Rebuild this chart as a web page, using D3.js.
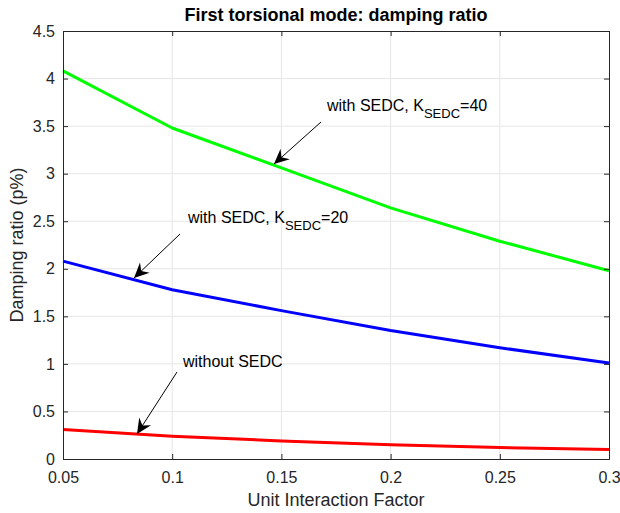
<!DOCTYPE html>
<html>
<head>
<meta charset="utf-8">
<script src="https://cdn.jsdelivr.net/npm/d3@7"></script>
<style>
  body { margin: 0; background: #fff; }
  svg text { font-family: "Liberation Sans", Arial, Helvetica, sans-serif; }
</style>
</head>
<body>
<svg id="chart" width="620" height="513"></svg>
<script>
// data
const uif = [0.05, 0.1, 0.15, 0.2, 0.25, 0.3];
const k40 = [4.08, 3.48, 3.06, 2.64, 2.29, 1.98];
const k20 = [2.08, 1.78, 1.56, 1.35, 1.17, 1.01];
const noSedc = [0.31, 0.24, 0.19, 0.15, 0.12, 0.10];
const xTicks = [0.05, 0.1, 0.15, 0.2, 0.25, 0.3];
const yTicks = [0, 0.5, 1, 1.5, 2, 2.5, 3, 3.5, 4, 4.5];

const series = [
  {name: "K40", values: k40, color: "#00ff00"},
  {name: "K20", values: k20, color: "#0000ff"},
  {name: "none", values: noSedc, color: "#ff0000"}
];

const svg = d3.select("#chart");
const margin = {top: 31, right: 11, bottom: 54, left: 63};
const W = +svg.attr("width"), H = +svg.attr("height");
const innerWidth = W - margin.left - margin.right;
const innerHeight = H - margin.top - margin.bottom;

const xScale = d3.scaleLinear().domain([0.05, 0.3]).range([0, innerWidth]);
const yScale = d3.scaleLinear().domain([0, 4.5]).range([innerHeight, 0]);

const g = svg.append("g").attr("transform", `translate(${margin.left},${margin.top})`);

// grid
g.append("g").selectAll("line").data(xTicks.slice(1, -1)).enter().append("line")
  .attr("x1", d => xScale(d)).attr("x2", d => xScale(d))
  .attr("y1", 0).attr("y2", innerHeight)
  .attr("stroke", "#e6e6e6").attr("stroke-width", 1);
g.append("g").selectAll("line").data(yTicks.slice(1, -1)).enter().append("line")
  .attr("y1", d => yScale(d)).attr("y2", d => yScale(d))
  .attr("x1", 0).attr("x2", innerWidth)
  .attr("stroke", "#e6e6e6").attr("stroke-width", 1);

// lines
const line = d3.line().x((d, i) => xScale(uif[i])).y(d => yScale(d));
series.forEach(s => {
  g.append("path").datum(s.values)
    .attr("d", line)
    .attr("fill", "none")
    .attr("stroke", s.color)
    .attr("stroke-width", 3)
    .attr("stroke-linejoin", "round");
});

// axes (MATLAB box style, ticks inward)
const fmt = d => String(d);
const xAxis = d3.axisBottom(xScale).tickValues(xTicks).tickSize(-5).tickPadding(13).tickFormat(fmt);
const yAxis = d3.axisLeft(yScale).tickValues(yTicks).tickSize(-5).tickPadding(8).tickFormat(fmt);

const gx = g.append("g").attr("transform", `translate(0,${innerHeight})`).call(xAxis);
const gy = g.append("g").call(yAxis);
const gt = g.append("g").call(d3.axisTop(xScale).tickValues(xTicks).tickSize(-5));
const gr = g.append("g").attr("transform", `translate(${innerWidth},0)`)
  .call(d3.axisRight(yScale).tickValues(yTicks).tickSize(-5));
gt.selectAll("text").remove();
gr.selectAll("text").remove();

g.selectAll(".domain").attr("stroke", "#262626");
g.selectAll(".tick line").attr("stroke", "#262626");
[gx, gy].forEach(a => a.selectAll("text")
  .attr("font-size", "16px").attr("fill", "#262626")
  .style("font-family", "'Liberation Sans', Arial, sans-serif"));

// title and axis labels
svg.append("text")
  .attr("x", margin.left + innerWidth / 2).attr("y", 21)
  .attr("text-anchor", "middle")
  .attr("font-size", "18px").attr("font-weight", "bold").attr("fill", "#000")
  .text("First torsional mode: damping ratio");

svg.append("text")
  .attr("x", margin.left + innerWidth / 2).attr("y", 506)
  .attr("text-anchor", "middle")
  .attr("font-size", "18px").attr("fill", "#262626")
  .text("Unit Interaction Factor");

svg.append("text")
  .attr("transform", `translate(23,${margin.top + innerHeight / 2}) rotate(-90)`)
  .attr("text-anchor", "middle")
  .attr("font-size", "18px").attr("fill", "#262626")
  .text("Damping ratio (p%)");

// annotations: arrow from (x1,y1) to tip (x2,y2) in pixels
function arrow(x1, y1, x2, y2) {
  svg.append("line")
    .attr("x1", x1).attr("y1", y1).attr("x2", x2).attr("y2", y2)
    .attr("stroke", "#000").attr("stroke-width", 1);
  const ang = Math.atan2(y2 - y1, x2 - x1);
  const len = 15, half = 7, back = 10;
  const ux = Math.cos(ang), uy = Math.sin(ang);
  const px = -uy, py = ux;
  const pts = [
    [x2, y2],
    [x2 - ux * len + px * half, y2 - uy * len + py * half],
    [x2 - ux * back, y2 - uy * back],
    [x2 - ux * len - px * half, y2 - uy * len - py * half]
  ];
  svg.append("path").attr("d", "M" + pts.map(p => p.join(",")).join("L") + "Z")
    .attr("fill", "#000");
}

function label(x, y, main, sub, tail) {
  const t = svg.append("text").attr("x", x).attr("y", y)
    .attr("font-size", "16px").attr("fill", "#000");
  t.append("tspan").text(main);
  if (sub) {
    t.append("tspan").attr("dy", 7).attr("font-size", "13px").text(sub);
    t.append("tspan").attr("dy", -7).text(tail);
  }
}

arrow(321, 122, 274, 164);
label(327, 111, "with SEDC, K", "SEDC", "=40");

arrow(180, 234, 134, 278);
label(188, 223, "with SEDC, K", "SEDC", "=20");

arrow(177, 372, 137, 434);
label(183, 367, "without SEDC");
</script>
</body>
</html>
